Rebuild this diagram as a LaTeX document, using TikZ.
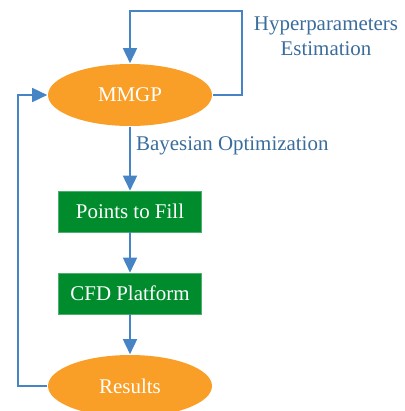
\documentclass[tikz,border=0pt]{standalone}
\usepackage{fontspec}
\setmainfont{Liberation Serif}
\usetikzlibrary{arrows.meta,shapes.geometric}
\definecolor{flowblue}{HTML}{4684C6}
\definecolor{labelblue}{HTML}{3A6C9C}
\definecolor{mmorange}{HTML}{F99F27}
\definecolor{boxgreen}{HTML}{008C2D}

\begin{document}
\begin{tikzpicture}[x=1bp,y=-1bp,>={Triangle[length=15bp,width=14bp]},
  font=\fontsize{21}{25}\selectfont,line width=1.6bp,
  oval/.style={ellipse,fill=mmorange,text=white,minimum width=164bp,minimum height=62bp,inner sep=0pt},
  stepbox/.style={rectangle,fill=boxgreen,draw=boxgreen!70!white,line width=0.6bp,text=white,minimum width=143bp,minimum height=41bp,inner sep=0pt},
  lbl/.style={text=labelblue}]
\useasboundingbox (0,0) rectangle (405,411);
\node[oval] (mmgp) at (130,95) {MMGP};
\node[stepbox] (fill) at (130,211.5) {Points to Fill};
\node[stepbox] (cfd) at (130,293.5) {CFD Platform};
\node[oval] (res) at (130,386) {Results};
\node[lbl,align=center] (hyper) at (326,36) {Hyperparameters\\Estimation};
\node[lbl,anchor=west] (bayes) at (132,146) {Bayesian Optimization};
\coordinate (hpcorner) at (242,11);
\coordinate (fbcorner) at (18,95);
% loops
\draw[flowblue,->] (mmgp.east) -| (hpcorner) -| (mmgp.north);
\draw[flowblue,->] (res.west) -| (fbcorner) -- (mmgp.west);
% main chain
\draw[flowblue,->] (mmgp.south) -- (fill.north);
\draw[flowblue,->] (fill.south) -- (cfd.north);
\draw[flowblue,->] (cfd.south) -- (res.north);
\end{tikzpicture}
\end{document}
